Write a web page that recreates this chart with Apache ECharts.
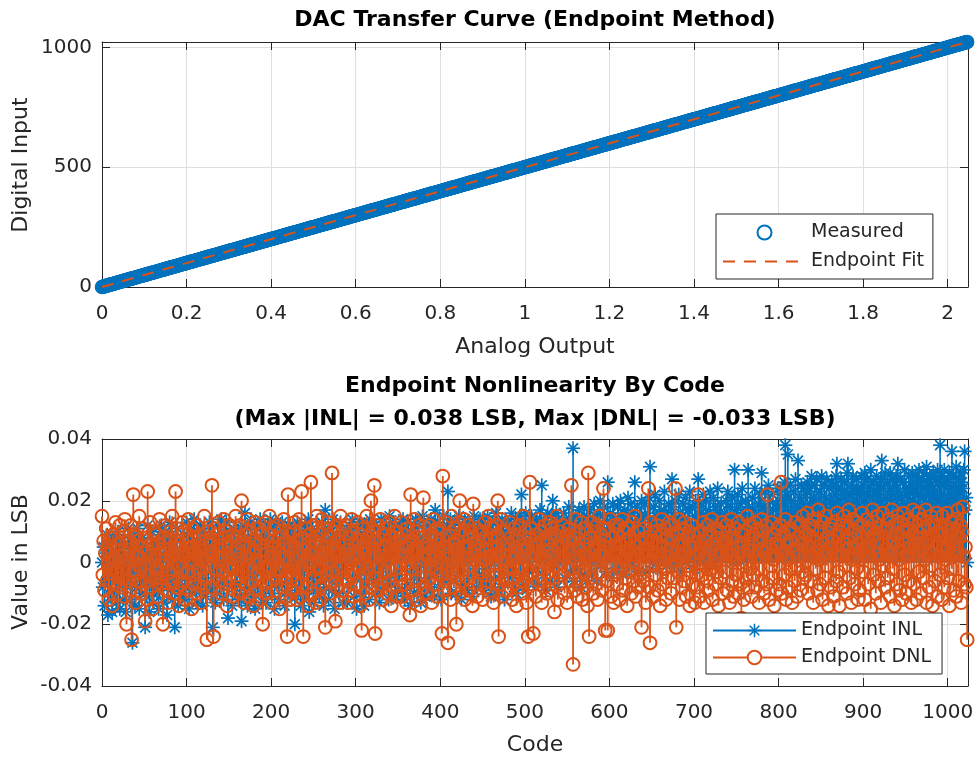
<!DOCTYPE html>
<html>
<head>
<meta charset="utf-8">
<title>DAC endpoint INL / DNL</title>
<script src="https://cdn.jsdelivr.net/npm/echarts@6/dist/echarts.min.js"></script>
<style>
  html, body { margin: 0; padding: 0; background: #fff; }
  #chart { width: 980px; height: 759px; }
</style>
</head>
<body>
<div id="chart"></div>
<script>
// endpoint INL per code, in thousandths of an LSB (code 0 .. 1023)
const inlMilli = [
  0,-8,5,-14,3,-6,9,-17,-1,6,-11,2,-16,8,-4,-9,4,-13,1,10,-7,-15,3,-3,7,-12,-2,5,-16,0,-8,11,
  -5,7,-12,3,-26,-1,9,-14,4,-8,11,-3,-15,6,0,-10,8,-6,2,-21,5,-11,12,-4,-16,3,-7,10,-2,-13,6,-9,
  6,-10,2,-15,9,-4,12,-7,1,-13,5,10,-2,-17,7,-5,13,-9,3,-12,8,-1,-21,4,-6,11,-14,0,7,-8,3,-11,
  -3,9,-12,5,13,-7,1,-15,8,-4,11,-10,3,14,-6,0,-13,7,2,-9,12,-1,6,-14,10,-5,4,-11,8,1,-8,13,
  5,-9,11,-21,2,8,-13,6,-4,12,-1,-10,7,14,-6,3,-12,9,0,13,-7,-18,4,10,-3,7,-14,1,11,-8,5,-11,
  -7,10,3,-12,6,-19,12,-2,8,16,-9,4,-14,11,1,-5,13,-11,7,-3,9,-15,2,12,-8,5,-1,14,-10,6,-13,3,
  9,-4,-13,7,12,-8,2,14,-10,5,-2,11,-15,6,13,-6,1,-12,10,4,-7,13,-3,8,-14,3,11,-9,6,-1,12,-11,
  -6,11,-2,8,-20,4,-11,13,1,-8,7,-14,10,-4,3,-12,12,-1,-9,6,14,-16,2,9,-5,11,-13,4,8,-7,0,-10,
  4,-11,9,-5,13,-2,-14,7,17,-8,3,11,-12,6,-3,10,-9,14,1,-15,8,-6,12,2,-10,5,13,-4,7,-13,9,-1,
  -2,10,-13,6,3,12,-8,1,14,-5,-11,8,2,-15,11,-4,7,13,-10,4,-1,9,-14,12,0,-7,10,5,-12,14,-3,6,
  8,-6,13,2,-10,11,-3,7,-13,5,14,-1,9,-8,4,12,-5,1,10,-12,15,3,-7,8,13,-4,6,-11,2,11,-9,5,
  -4,12,3,-9,14,6,-12,9,1,-7,13,4,-14,10,-2,7,11,-10,5,14,-5,2,12,-8,8,-13,3,15,-1,6,-11,10,
  7,-5,12,1,-9,14,4,-3,10,-11,17,6,-2,13,-8,9,3,-12,11,5,15,-6,8,-1,12,23,-4,7,14,-10,2,11,
  -6,13,5,-10,9,2,15,-3,8,-12,11,4,-7,14,1,10,-9,6,13,-4,3,12,-11,7,15,-2,9,-8,11,5,-5,14,
  10,-4,14,3,-9,12,6,-1,15,-7,8,11,-11,4,13,0,7,-10,16,2,9,-5,12,-8,5,14,-3,10,-12,8,1,13,
  6,13,-5,9,16,-2,11,-8,3,14,-10,7,12,0,15,-4,22,8,-7,11,4,16,-9,6,13,-3,10,2,15,-6,9,12,
  9,-2,14,5,-7,12,17,1,25,8,-4,13,6,-9,11,16,3,10,-6,15,7,20,-1,12,4,16,-8,9,14,0,11,6,
  12,2,16,-5,9,14,0,11,18,-3,7,13,4,37,-6,10,15,5,-2,12,17,8,-8,14,3,11,18,-4,9,15,6,1,
  10,17,3,-4,14,8,19,1,12,-6,16,6,11,20,-1,9,15,4,18,7,-3,13,26,10,2,16,9,-5,19,11,5,14,
  13,4,18,-2,11,20,7,15,-4,10,17,2,14,8,21,-1,12,19,5,16,0,9,26,13,6,18,-3,11,15,3,20,8,
  14,2,19,9,-3,16,11,21,31,6,13,0,18,8,22,4,15,-2,12,20,7,17,1,14,10,23,5,16,-1,12,19,8,
  11,18,27,4,15,-1,20,9,13,2,22,7,16,-3,12,19,5,14,21,0,10,17,6,23,12,3,18,8,-2,15,20,10,
  14,27,6,19,1,16,11,22,3,13,20,8,-2,17,10,23,5,15,12,21,0,18,9,14,24,4,16,11,19,7,13,2,
  16,5,20,12,23,2,14,18,8,21,0,15,30,10,17,4,22,13,7,19,11,24,3,16,9,20,14,1,30,18,6,12,
  13,21,6,17,24,9,15,2,19,11,22,14,29,5,18,10,23,7,16,12,25,3,20,14,8,22,17,11,4,19,13,24,
  18,10,24,15,21,8,19,26,38,13,22,35,16,11,25,20,7,17,23,14,27,12,18,33,9,21,16,25,13,19,24,15,
  22,13,26,17,9,24,19,28,14,21,11,25,18,27,15,20,10,23,16,28,12,19,25,14,21,27,17,11,24,20,13,26,
  19,25,13,22,28,32,16,24,11,20,27,18,23,14,26,21,15,29,32,17,22,12,25,19,28,16,23,13,27,20,24,18,
  23,17,28,14,25,20,29,12,22,27,16,24,19,30,13,21,26,18,23,11,28,22,15,25,20,27,33,17,24,14,29,21,
  18,26,13,24,29,16,22,27,12,25,20,28,17,32,23,15,27,21,14,26,19,30,16,24,22,13,28,20,25,17,29,23,
  24,19,28,15,26,22,30,17,25,13,27,21,29,18,24,31,16,26,22,28,14,25,20,29,23,17,27,21,30,19,26,38,
  22,28,17,25,30,19,26,14,27,21,29,16,24,36,20,28,18,25,31,22,15,27,23,29,19,26,24,30,36,17,21,0
];

// endpoint DNL per code, in thousandths of an LSB (code 0 .. 1023)
const dnlMilli = [
  15,-4,7,-9,3,11,-6,0,-12,5,8,-2,-14,9,1,-7,13,-3,4,-10,6,12,-8,2,-5,10,-11,14,-1,-20,7,-6,
  4,-9,12,-25,6,22,-3,9,-13,2,7,-6,15,-1,-10,5,11,-7,3,-19,8,-12,23,0,-4,13,-8,6,-15,10,1,-5,
  9,-2,-11,6,14,-7,3,-5,-20,8,1,12,-9,4,-13,7,-3,10,-6,15,2,-10,5,23,-8,11,-1,-14,6,3,-7,13,
  -6,10,2,-12,7,-3,14,-9,5,0,-15,11,-4,8,-7,3,12,-10,6,-2,9,-13,4,1,-8,15,-5,7,-25,10,-1,6,
  3,-8,25,6,-24,11,-2,9,-12,4,13,-6,1,-10,8,-3,14,-7,5,10,-14,2,-5,12,-1,7,-11,9,3,-9,15,-4,
  8,-5,1,12,-10,20,-3,6,-13,9,2,-7,14,-1,-11,5,10,-6,3,-14,7,13,-9,0,11,-4,6,-12,4,9,-20,-2,
  -7,13,4,-10,9,-1,15,-6,2,-13,7,11,-4,5,-9,12,-2,8,-15,3,10,-8,1,14,-5,6,-11,-24,22,-3,9,-12,
  5,-9,10,-4,13,1,-12,7,-6,14,2,-11,23,8,-24,4,-3,11,-8,6,-14,9,0,26,-10,3,12,-5,7,-13,15,-1,
  -2,9,-12,6,14,-7,3,11,-21,5,-4,13,1,-10,8,-6,29,-3,10,4,-19,12,-8,2,7,-13,15,-1,-9,6,11,-5,
  12,-6,4,-13,8,1,-9,14,-3,10,-11,6,2,-7,13,-1,7,-14,9,-22,5,11,-4,3,-10,15,-2,8,-12,6,20,-8,
  -5,10,25,-23,7,-1,12,-9,4,14,-7,2,-12,9,5,-3,11,-10,1,13,-6,8,-14,6,3,-8,15,-2,10,-11,7,0,
  8,-4,13,-11,2,9,-7,5,-13,11,0,6,-17,22,-2,7,-9,14,3,-6,10,-12,4,12,-1,-14,8,5,21,-8,1,-10,
  6,-10,3,12,-5,9,-13,1,14,-7,8,-2,11,-11,4,7,-4,10,-23,28,-9,5,13,-6,2,-26,9,-1,-12,15,-3,6,
  -8,11,4,-20,7,-3,13,20,-10,2,9,-6,14,-12,5,1,-5,12,-9,8,-1,10,-14,19,3,-7,6,11,-11,4,-2,9,
  10,-3,-12,7,1,13,-8,4,-6,15,2,-10,8,-1,11,-13,5,-4,12,9,20,-24,3,-7,14,-11,6,0,-9,10,4,-5,
  -9,6,13,-2,8,-12,1,11,-5,3,-14,9,7,-8,12,-1,4,-10,15,-6,2,10,-13,5,-24,8,26,-3,11,-7,-23,6,
  3,-11,9,5,-6,14,-2,10,-13,7,1,-8,12,4,-10,6,-3,13,-9,2,11,-5,8,-16,9,-1,15,-12,5,-7,10,0,
  -4,12,6,-10,2,9,-13,7,11,-6,3,25,-2,-33,8,-9,14,1,-11,5,10,-7,4,13,-12,6,-3,11,-8,2,-14,29,
  -24,8,-5,13,1,-10,10,4,-7,12,-12,6,15,-3,9,-9,2,24,7,-22,11,-6,-22,5,-1,14,-11,8,3,-13,12,-4,
  9,-7,3,12,-12,6,-2,14,-9,1,10,-5,7,-14,4,11,-3,8,-10,13,0,-6,15,-11,5,2,-8,10,-4,7,-21,3,
  -6,11,2,-13,8,4,24,-8,-26,13,-1,7,-11,10,3,-4,12,-9,6,1,-14,9,14,-7,5,-2,11,-12,8,-5,2,13,
  4,-10,12,7,-5,1,24,-21,9,-3,14,-12,6,2,-8,11,-6,13,3,-11,8,-1,10,-14,5,12,-7,0,9,-13,6,-4,
  -8,22,3,-11,10,5,-4,13,-13,7,1,-6,12,-9,4,9,-2,14,-12,6,0,-7,11,-3,8,-14,2,10,-5,13,-10,6,
  7,-3,12,-9,4,10,-13,2,14,-6,8,-11,1,11,-4,5,-10,13,3,-7,-18,9,6,-12,10,0,-5,15,-8,4,12,-2,
  -11,6,9,-4,13,-8,2,11,-2,-13,7,4,14,-6,10,-10,3,12,-7,22,5,-12,8,-1,13,-5,1,-14,9,6,-9,11,
  5,-7,12,26,-10,3,9,-4,14,-12,6,1,-8,11,-2,7,-13,10,4,-6,13,-1,-11,8,2,12,-9,6,-3,15,-5,10,
  -4,9,16,-10,5,12,-6,2,11,-13,7,14,-2,4,-9,17,1,-7,10,6,-12,13,3,-5,15,-1,8,-14,11,5,-8,12,
  7,-11,13,3,-6,16,9,-3,-14,10,2,12,-8,6,15,-1,4,-10,11,17,-5,8,-13,1,14,5,-7,10,-2,13,-12,6,
  -9,12,4,16,-3,7,-12,10,2,14,-7,5,11,-15,8,17,-4,9,13,-10,3,15,-6,1,12,-13,6,16,-1,10,-8,4,
  11,-5,8,14,-11,3,17,-2,6,-14,12,9,-7,15,1,-9,13,4,-12,10,16,-4,7,-10,2,14,-6,11,5,-13,9,17,
  -7,13,6,-12,10,16,-3,8,-10,4,14,-5,11,1,17,-13,7,12,-8,3,15,-1,-14,9,13,-6,5,16,-11,10,2,-4,
  9,-12,15,4,-8,12,1,16,-5,10,-14,7,13,-2,11,-9,6,14,-11,3,17,-6,8,12,-13,10,18,2,-7,5,-8,-25
];

const lsbVolts = 0.002;          // volts per code
const fitCodes = [0, 1023];      // endpoint line, digital side
const fitVolts = [0, 2.046];     // endpoint line, analog side
const analogRange = [0, 2.048];
const digitalRange = [0, 1023];
const codeRange = [0, 1024];
const lsbRange = [-0.04, 0.04];

const BLUE = '#0072BD';
const ORANGE = '#D95319';
const INK = '#262626';
const GRIDLINE = '#dfdfdf';
const FONT = 'DejaVu Sans';

const codes = inlMilli.map((_, i) => i);
const measured = codes.map(c => [(c + inlMilli[c] / 1000) * lsbVolts, c]);
const inlData = codes.map(c => [c, inlMilli[c] / 1000]);
const dnlData = codes.map(c => [c, dnlMilli[c] / 1000]);

const STAR = 'path://M0 7.1H16V8.9H0ZM7.1 0H8.9V16H7.1ZM2.99 1.72L14.28 13.01L13.01 14.28L1.72 2.99ZM14.28 2.99L2.99 14.28L1.72 13.01L13.01 1.72Z';

const tickLabel = { fontFamily: FONT, fontSize: 20, color: INK };

function mainAxis(grid, range, step, pos, margin, hideMax) {
  return {
    type: 'value', gridIndex: grid, position: pos,
    min: range[0], max: range[1], interval: step,
    axisLine: { show: true, onZero: false, lineStyle: { color: INK, width: 1 } },
    axisTick: { show: true, inside: true, length: 8, lineStyle: { color: INK } },
    axisLabel: { ...tickLabel, margin: margin, showMaxLabel: !hideMax,
      formatter: v => String(+v.toFixed(3)) },
    splitLine: { show: true, lineStyle: { color: GRIDLINE, width: 1 } }
  };
}
function frameAxis(grid, range, step, pos) {
  const a = mainAxis(grid, range, step, pos, 8, true);
  a.axisLabel = { show: false };
  a.splitLine = { show: false };
  return a;
}

// stem with an asterisk on top
function inlStem(params, api) {
  const base = api.coord([api.value(0), 0]);
  const tip = api.coord([api.value(0), api.value(1)]);
  const r = 7, d = r * 0.7071;
  const seg = (x1, y1, x2, y2, w) => ({ type: 'line', shape: { x1, y1, x2, y2 },
    style: { stroke: BLUE, lineWidth: w } });
  return { type: 'group', children: [
    seg(base[0], base[1], tip[0], tip[1], 1.6),
    seg(tip[0] - r, tip[1], tip[0] + r, tip[1], 1.7),
    seg(tip[0], tip[1] - r, tip[0], tip[1] + r, 1.7),
    seg(tip[0] - d, tip[1] - d, tip[0] + d, tip[1] + d, 1.7),
    seg(tip[0] - d, tip[1] + d, tip[0] + d, tip[1] - d, 1.7)
  ] };
}
// stem with a hollow circle on top
function dnlStem(params, api) {
  const base = api.coord([api.value(0), 0]);
  const tip = api.coord([api.value(0), api.value(1)]);
  return { type: 'group', children: [
    { type: 'line', shape: { x1: base[0], y1: base[1], x2: tip[0], y2: tip[1] },
      style: { stroke: ORANGE, lineWidth: 1.8 } },
    { type: 'circle', shape: { cx: tip[0], cy: tip[1], r: 6.4 },
      style: { fill: 'none', stroke: ORANGE, lineWidth: 2 } }
  ] };
}

const legendBase = {
  orient: 'vertical', itemWidth: 83,
  borderColor: INK, borderWidth: 1, borderRadius: 0, backgroundColor: '#fff',
  textStyle: { fontFamily: FONT, fontSize: 19, color: INK },
  selectedMode: false
};

const textEl = (text, x, y, size, weight, rot) => ({
  type: 'text', x: x, y: y, rotation: rot || 0, silent: true,
  style: { text: text, x: 0, y: 0, align: 'center', verticalAlign: 'middle',
    fontFamily: FONT, fontSize: size, fontWeight: weight, fill: weight === 'bold' ? '#000' : INK }
});

const chart = echarts.init(document.getElementById('chart'), null, { renderer: 'canvas' });
chart.setOption({
  animation: false,
  backgroundColor: '#fff',
  grid: [
    { left: 102, top: 42, width: 866, height: 245 },
    { left: 102, top: 439, width: 866, height: 247 }
  ],
  xAxis: [
    mainAxis(0, analogRange, 0.2, 'bottom', 17, true),
    frameAxis(0, analogRange, 0.2, 'top'),
    mainAxis(1, codeRange, 100, 'bottom', 17, true),
    frameAxis(1, codeRange, 100, 'top')
  ],
  yAxis: [
    mainAxis(0, digitalRange, 500, 'left', 10, true),
    frameAxis(0, digitalRange, 500, 'right'),
    mainAxis(1, lsbRange, 0.02, 'left', 10, false),
    frameAxis(1, lsbRange, 0.02, 'right')
  ],
  legend: [
    { ...legendBase, left: 716, top: 214, itemHeight: 14, itemGap: 10,
      padding: [9, 9, 8, 6],
      data: ['Measured', { name: 'Endpoint Fit', itemStyle: { opacity: 0 } }] },
    { ...legendBase, left: 706, top: 613, itemHeight: 17, itemGap: 8,
      padding: [8, 11, 7, 6],
      data: ['Endpoint INL', 'Endpoint DNL'] }
  ],
  series: [
    { name: 'Measured', type: 'scatter', xAxisIndex: 0, yAxisIndex: 0, data: measured,
      symbol: 'circle', symbolSize: 12.5, clip: false, silent: true,
      itemStyle: { color: 'rgba(0,114,189,0)', borderColor: BLUE, borderWidth: 2, opacity: 1 } },
    { name: 'Endpoint Fit', type: 'line', xAxisIndex: 0, yAxisIndex: 0, z: 3,
      data: [[fitVolts[0], fitCodes[0]], [fitVolts[1], fitCodes[1]]],
      showSymbol: false, silent: true,
      lineStyle: { color: ORANGE, width: 2, type: [12, 9] }, itemStyle: { color: ORANGE } },
    { name: 'INL stems', type: 'custom', xAxisIndex: 2, yAxisIndex: 2, data: inlData,
      encode: { x: 0, y: 1 }, renderItem: inlStem, silent: true, clip: false, z: 2 },
    { name: 'DNL stems', type: 'custom', xAxisIndex: 2, yAxisIndex: 2, data: dnlData,
      encode: { x: 0, y: 1 }, renderItem: dnlStem, silent: true, clip: false, z: 3 },
    { name: 'Endpoint INL', type: 'line', xAxisIndex: 2, yAxisIndex: 2, data: [],
      symbol: STAR, lineStyle: { color: BLUE, width: 1.3 },
      itemStyle: { color: BLUE, borderWidth: 0 } },
    { name: 'Endpoint DNL', type: 'line', xAxisIndex: 2, yAxisIndex: 2, data: [],
      symbol: 'emptyCircle', lineStyle: { color: ORANGE, width: 1.3 },
      itemStyle: { color: ORANGE } }
  ],
  graphic: [
    textEl('DAC Transfer Curve (Endpoint Method)', 535, 20, 22, 'bold'),
    textEl('Analog Output', 535, 347, 22, 'normal'),
    textEl('Digital Input', 21, 165, 22, 'normal', Math.PI / 2),
    textEl('Endpoint Nonlinearity By Code', 535, 386, 22, 'bold'),
    textEl('(Max |INL| = 0.038 LSB, Max |DNL| = -0.033 LSB)', 535, 419, 22, 'bold'),
    textEl('Code', 535, 745, 22, 'normal'),
    textEl('Value in LSB', 21, 562, 22, 'normal', Math.PI / 2)
  ]
});
</script>
</body>
</html>
